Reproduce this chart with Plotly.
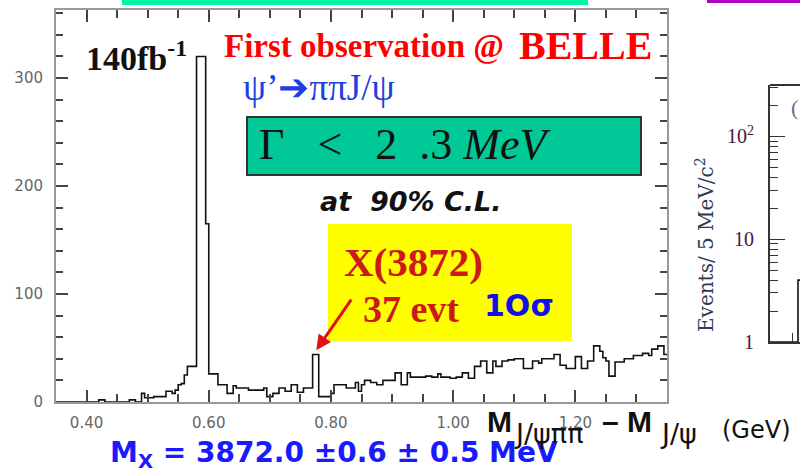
import numpy as np
import plotly.graph_objects as go

# ---------------- data ----------------
bin_start = 0.35          # GeV
bin_width = 0.005         # 5 MeV bins
counts = [
    0, 0, 0, 0, 0, 0, 0, 0, 0, 0,
    0, 0, 0, 0, 2, 2, 0, 0, 0, 0,
    0, 0, 0, 0, 2, 2, 0, 0, 8, 4,
    4, 4, 5, 5, 5, 5, 10, 10, 8, 11,
    16, 17, 25, 33, 33, 33, 320, 320, 320, 165,
    26, 26, 26, 16, 16, 16, 8, 8, 15, 13,
    13, 13, 13, 11, 11, 11, 11, 11, 13, 5,
    5, 8, 8, 13, 13, 10, 10, 16, 16, 9,
    9, 13, 13, 13, 44, 44, 5, 5, 5, 5,
    8, 16, 16, 16, 16, 13, 13, 13, 18, 10,
    16, 20, 20, 18, 18, 16, 16, 20, 20, 20,
    20, 27, 27, 16, 16, 27, 23, 23, 23, 23,
    23, 24, 24, 23, 23, 26, 23, 23, 23, 22,
    22, 23, 23, 27, 27, 22, 22, 33, 33, 38,
    38, 27, 27, 38, 33, 33, 38, 38, 39, 39,
    40, 40, 40, 31, 31, 31, 38, 38, 36, 40,
    40, 40, 40, 44, 44, 34, 34, 31, 31, 31,
    42, 42, 31, 31, 38, 38, 52, 52, 47, 41,
    38, 24, 24, 37, 37, 37, 40, 40, 40, 43,
    43, 43, 45, 45, 43, 49, 49, 52, 52, 44,
]
x_ticks = [0.40, 0.60, 0.80, 1.00, 1.20]
y_ticks = [0, 100, 200, 300]

# partial second panel (b), log scale
b_edges = [3.800, 3.828, 3.840]
b_counts = [1, 4]
b_yticks = [1, 10, 100]
b_yticktext = ["1", "10", "10<sup>2</sup>"]
b_minor = [2, 3, 4, 5, 6, 7, 8, 9, 20, 30, 40, 50, 60, 70, 80, 90, 200, 300]

# ---------------- helpers ----------------
W, H = 800, 474
def px(x):
    return x / W
def py(y):
    return 1 - y / H

edges = [bin_start + i * bin_width for i in range(len(counts) + 1)]
hx = [edges[0]] + edges
hy = [0] + counts + [counts[-1]]

fig = go.Figure()
fig.add_trace(go.Scatter(x=hx, y=hy, mode="lines", line=dict(color="#111", width=1.6, shape="hv"),
                         hoverinfo="skip", showlegend=False))

bx = b_edges
by = b_counts + [b_counts[-1]]
fig.add_trace(go.Scatter(x=bx, y=by, mode="lines", line=dict(color="#111", width=1.6, shape="hv"),
                         xaxis="x2", yaxis="y2", hoverinfo="skip", showlegend=False))

tickfont = dict(family="DejaVu Sans", size=15, color="#666")
axis_common = dict(showline=True, linecolor="#999", linewidth=2, mirror="ticks",
                   ticks="inside", tickcolor="#444", tickwidth=1.5, ticklen=12,
                   showgrid=False, zeroline=False, automargin=False, tickfont=tickfont)

fig.update_layout(
    width=W, height=H, margin=dict(l=0, r=0, t=0, b=0), autosize=False,
    paper_bgcolor="white", plot_bgcolor="white",
    xaxis=dict(domain=[px(56), px(667)], range=[0.35, 1.35], tickvals=x_ticks,
               tickformat=".2f", anchor="y", ticklabelstandoff=6,
               minor=dict(dtick=0.05, tick0=0.35, ticks="inside", ticklen=8, tickcolor="#444", tickwidth=1.5),
               **axis_common),
    yaxis=dict(domain=[py(402), py(10)], range=[0, 363], tickvals=y_ticks, anchor="x",
               ticklabelstandoff=8,
               minor=dict(dtick=20, tick0=0, ticks="inside", ticklen=7, tickcolor="#444", tickwidth=1.5),
               **axis_common),
    xaxis2=dict(domain=[px(770), 1.0], range=[3.80, 3.83], anchor="y2", showline=True,
                linecolor="#333", linewidth=2, ticks="inside", tickvals=[3.822], ticklen=9,
                tickcolor="#333", showticklabels=False, showgrid=False, zeroline=False, automargin=False),
    yaxis2=dict(domain=[py(342), py(85)], type="log", range=[0, 2.5], anchor="x2", showline=True,
                linecolor="#333", linewidth=2, ticks="inside", ticklen=15, tickcolor="#333",
                tickvals=b_yticks, ticktext=b_yticktext, showgrid=False, zeroline=False, automargin=False,
                tickfont=dict(family="Liberation Serif", size=20, color="#4a1538"), ticklabelstandoff=10,
                minor=dict(tickvals=b_minor, ticks="inside", ticklen=8, tickcolor="#333")),
)

shapes = [
    dict(type="rect", xref="paper", yref="paper", x0=px(122), x1=px(588), y0=py(5), y1=1,
         fillcolor="#00f5a0", line=dict(width=0), layer="above"),
    dict(type="rect", xref="paper", yref="paper", x0=px(707), x1=1, y0=py(3), y1=1,
         fillcolor="#b300c8", line=dict(width=0), layer="above"),
    dict(type="rect", xref="paper", yref="paper", x0=px(247), x1=px(641), y0=py(175), y1=py(117),
         fillcolor="#00c896", line=dict(color="#333", width=2), layer="above"),
    dict(type="rect", xref="paper", yref="paper", x0=px(328), x1=px(572), y0=py(341), y1=py(224),
         fillcolor="#ffff00", line=dict(width=0), layer="above"),
    dict(type="line", xref="paper", yref="paper", x0=px(770), x1=1, y0=py(85), y1=py(85),
         line=dict(color="#333", width=2)),
]
fig.update_layout(shapes=shapes)

def txt(text, x, y, size, color, family, bold=False, italic=False, xanchor="left", yanchor="middle", angle=0):
    return dict(text=text, x=px(x), y=py(y), xref="paper", yref="paper", showarrow=False,
                xanchor=xanchor, yanchor=yanchor, textangle=angle,
                font=dict(family=family, size=size, color=color,
                          weight="bold" if bold else "normal", style="italic" if italic else "normal"))

NB = "\u00a0"
serif = "Liberation Serif"
sans = "DejaVu Sans"
anns = [
    txt("140fb<sup>-1</sup>", 84, 56, 34, "#111", serif, bold=True),
    txt("First observation @", 222, 46, 33, "#ff0000", serif, bold=True),
    txt("BELLE", 517, 45, 40, "#ff0000", serif, bold=True),
    txt("ψ’➔ππJ/ψ", 241, 88, 37, "#1f3fdf", serif),
    txt("Γ" + NB * 3 + "<" + NB * 3 + "2" + NB * 2 + ".3" + NB + "<i>MeV</i>", 257, 145, 44, "#111", serif),
    txt("at" + NB * 2 + "90% C.L.", 318, 201, 27, "#111", sans, bold=True, italic=True),
    txt("X(3872)", 342, 262, 41, "#cc1a1a", serif, bold=True),
    txt("37 evt", 361, 309, 38, "#cc1a1a", serif, bold=True),
    txt("1Oσ", 482, 305, 30, "#1010ee", sans, bold=True),
    txt("M<sub>X</sub> = 3872.0 ±0.6 ± 0.5 MeV", 108, 454, 28, "#1a1aff", sans, bold=True),
    txt("M", 485, 421, 30, "#111", "Liberation Sans", bold=True),
    txt("J/ψππ", 512, 433, 27, "#111", sans),
    txt("–" + NB + "M", 600, 421, 30, "#111", "Liberation Sans", bold=True),
    txt("J/ψ", 658, 433, 27, "#111", sans),
    txt("(GeV)", 720, 430, 24, "#111", sans),
    txt("Events/ 5 MeV/c<sup>2</sup>", 705, 245, 20, "#2b3a55", "DejaVu Serif", xanchor="center", angle=-90),
    txt("(", 789, 107, 22, "#6a6a8a", serif),
    dict(text="", x=0.776, y=48, xref="x", yref="y", ax=36, ay=-52, showarrow=True,
         arrowhead=2, arrowsize=1, arrowwidth=3, arrowcolor="#e01010", standoff=0),
]
fig.update_layout(annotations=anns)

fig.write_html("out.html")
